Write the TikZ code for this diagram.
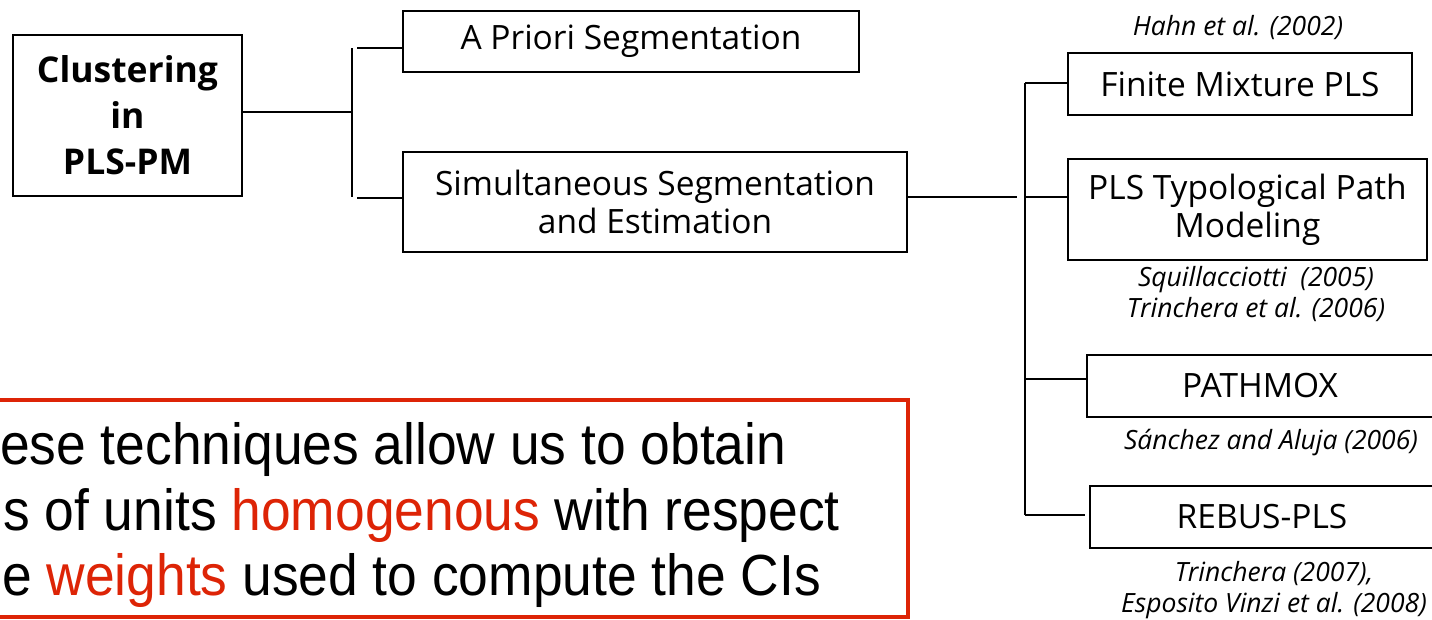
\documentclass[tikz,border=0pt]{standalone}
\usepackage{fontspec}
\setmainfont{Open Sans}
\newfontfamily\notefont[FakeStretch=0.92]{Liberation Sans}
\definecolor{accent}{RGB}{221,36,6}
\tikzset{
  box/.style={draw, line width=2pt, inner sep=0pt, align=center,
    font=\fontsize{33.5}{38}\selectfont},
  cite/.style={inner sep=0pt, align=center,
    font=\fontsize{26.5}{31}\selectfont\itshape},
  link/.style={line width=2pt},
  noteline/.style={inner sep=0pt, anchor=base west,
    font=\notefont\fontsize{58}{64}\selectfont}
}
\begin{document}
\begin{tikzpicture}[x=1pt,y=-1pt]
\useasboundingbox (0,0) rectangle (1432,619);
\clip (0,0) rectangle (1432,619);

% main boxes
\node[box, minimum width=229pt, minimum height=161pt,
      font=\fontsize{35.5}{46}\selectfont\bfseries] (clu) at (127.5,115.5)
      {Clustering\\in\\PLS-PM};
\node[box, minimum width=456pt, minimum height=61pt] (apri) at (631,41.5)
      {A Priori Segmentation};
\node[box, minimum width=504pt, minimum height=100pt] (simul) at (655,202)
      {Simultaneous Segmentation\\and Estimation};

% method boxes
\node[box, minimum width=344pt, minimum height=62pt] (fmix) at (1240,84)
      {Finite Mixture PLS};
\node[box, minimum width=359pt, minimum height=101pt] (typo) at (1247.5,209.5)
      {PLS Typological Path\\Modeling};
\node[box, minimum width=346pt, minimum height=62pt] (pmox) at (1260,386)
      {PATHMOX};
\node[box, minimum width=344pt, minimum height=62pt] (rebus) at (1262,517)
      {REBUS-PLS};

% references
\node[cite] (c1) at (1238,28) {Hahn et al. (2002)};
\node[cite] (c2) at (1256,294) {Squillacciotti~~(2005)\\Trinchera et al. (2006)};
\node[cite] (c3) at (1271,443) {Sánchez and Aluja (2006)};
\node[cite] (c4) at (1274,590) {Trinchera (2007),\\Esposito Vinzi et al. (2008)};

% first split
\coordinate (s1) at (352,112);
\coordinate (s1t) at (352,48);
\coordinate (s1b) at (352,197);
\coordinate (bA) at (357,48);
\coordinate (bS) at (357,198);
\draw[link] (clu.east |- s1) -- (s1);
\draw[link] (s1t) -- (s1b);
\draw[link] (bA) -- (bA -| apri.west);
\draw[link] (bS) -- (bS -| simul.west);

% second split
\coordinate (s2) at (1017,197);
\coordinate (s2t) at (1025,83);
\coordinate (s2b) at (1025,515);
\coordinate (bF) at (1025,83);
\coordinate (bT) at (1025,197);
\coordinate (bP) at (1025,379);
\coordinate (bR) at (1025,515);
\coordinate (bRe) at (1085,515);
\draw[link] (simul.east |- s2) -- (s2);
\draw[link] (s2t) -- (s2b);
\draw[link] (bF) -- (bF -| fmix.west);
\draw[link] (bT) -- (bT -| typo.west);
\draw[link] (bP) -- (bP -| pmox.west);
\draw[link] (bR) -- (bRe);

% note
\draw[line width=4pt, accent] (-20,400) rectangle (908,617);
\node[noteline] (n1) at (0,464) {ese techniques allow us to obtain};
\node[noteline] (n2) at (3,530) {s of units \textcolor{accent}{homogenous} with respect};
\node[noteline] (n3) at (2,595) {e \textcolor{accent}{weights} used to compute the CIs};
\end{tikzpicture}
\end{document}
